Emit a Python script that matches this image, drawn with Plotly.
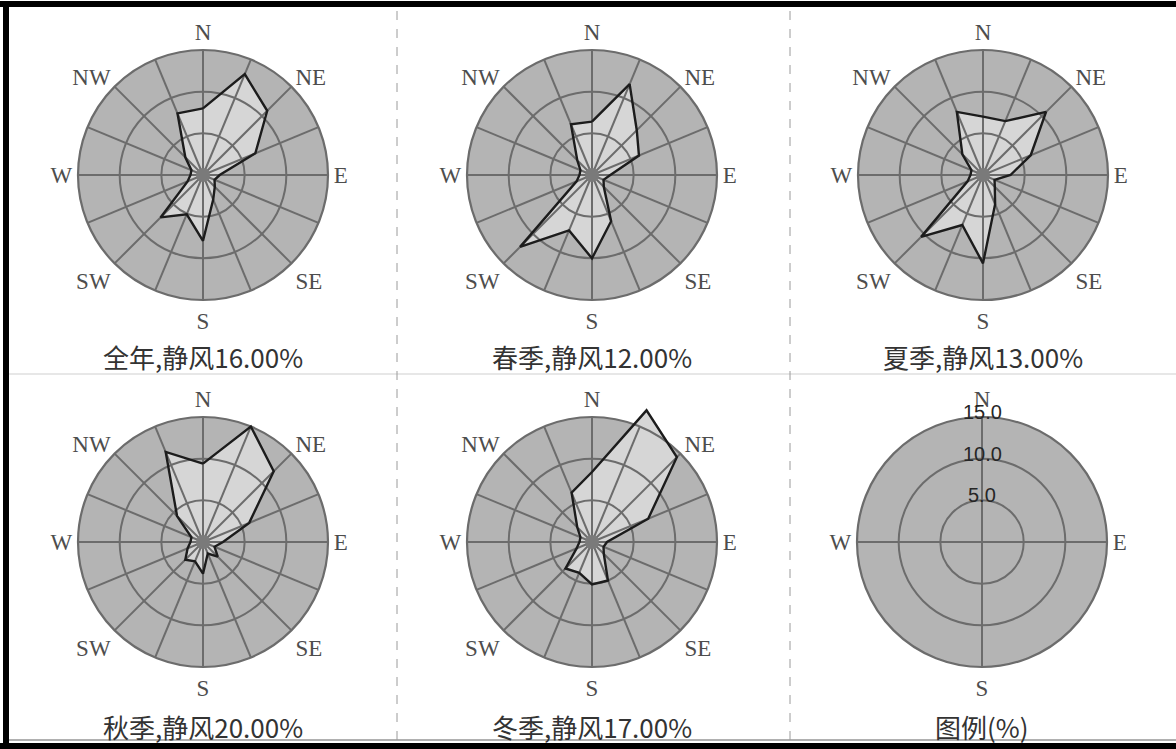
import plotly.graph_objects as go

# ---------------------------------------------------------------- data
DIRECTIONS = ["N", "NNE", "NE", "ENE", "E", "ESE", "SE", "SSE",
              "S", "SSW", "SW", "WSW", "W", "WNW", "NW", "NNW"]
COMPASS_TEXT = ["N", "", "NE", "", "E", "", "SE", "",
                "S", "", "SW", "", "W", "", "NW", ""]

# wind direction frequency (%) per direction, N clockwise
annual = [8.0, 13.1, 10.9, 6.8, 2.0, 1.5, 2.0, 3.2,
          7.9, 5.1, 7.2, 2.0, 1.5, 1.5, 3.0, 8.0]
spring = [6.4, 11.8, 7.6, 6.1, 2.2, 1.5, 2.0, 6.0,
          10.0, 7.2, 12.2, 2.0, 1.5, 1.5, 2.5, 6.6]
summer = [7.0, 7.0, 10.7, 6.2, 3.3, 1.5, 2.0, 3.8,
          10.6, 6.5, 10.5, 2.0, 1.5, 1.5, 3.5, 8.2]
autumn = [9.4, 15.0, 12.0, 6.0, 2.4, 1.5, 2.5, 1.5,
          3.8, 2.5, 3.0, 2.0, 1.5, 1.5, 4.4, 11.7]
winter = [8.4, 17.1, 14.4, 7.3, 1.8, 1.5, 2.0, 5.0,
          5.1, 4.0, 4.5, 2.0, 1.5, 1.5, 2.5, 6.4]

periods = ["全年", "春季", "夏季", "秋季", "冬季"]
calm_pct = [16.00, 12.00, 13.00, 20.00, 17.00]
series = [annual, spring, summer, autumn, winter]

ring_values = [5, 10, 15]
legend_caption = "图例(%)"

# ---------------------------------------------------------------- style
W, H = 1176, 749
R_PX = 125                      # pixel radius of the outer (15 %) ring
R_MAX = 15                      # value on the outer ring
R_DATA = 18                     # data layers reach past the ring
centers = [(203, 175), (592, 175), (983, 175),
           (203, 542), (592, 542), (982, 542)]
caption_y = [357, 357, 357, 726, 726, 726]

BG = "#b4b4b4"
GRID = "#6c6c6c"
FILL = "#d6d6d6"
OUTLINE = "#1c1c1c"
HUB = "#7a7a7a"
LABEL_FONT = dict(family="Liberation Serif", size=23, color="#4d4d4d")
CAPTION_FONT = dict(family="Noto Sans CJK SC", size=26, color="#333333")
RING_FONT = dict(family="Liberation Sans", size=20, color="#262626")

angles = [i * 360 / len(DIRECTIONS) for i in range(len(DIRECTIONS))]


def px_x(x):
    return x / W


def px_y(y):
    return 1 - y / H


def domain(cx, cy, rpx):
    return dict(x=[px_x(cx - rpx), px_x(cx + rpx)],
                y=[px_y(cy + rpx), px_y(cy - rpx)])


def data_polar(cx, cy):
    # bare layer used for the frequency area and its outline
    rpx = R_PX * R_DATA / R_MAX
    return dict(
        domain=domain(cx, cy, rpx), bgcolor="rgba(0,0,0,0)",
        radialaxis=dict(range=[0, R_DATA], showgrid=False, showline=False,
                        showticklabels=False, ticks=""),
        angularaxis=dict(rotation=90, direction="clockwise",
                         showgrid=False, showline=False,
                         showticklabels=False, ticks=""),
    )


def grid_polar(cx, cy, tickvals, ticktext):
    # rings, spokes and compass letters
    return dict(
        domain=domain(cx, cy, R_PX), bgcolor="rgba(0,0,0,0)",
        radialaxis=dict(range=[0, R_MAX], tickvals=ring_values,
                        showticklabels=False, ticks="", showline=False,
                        gridcolor=GRID, gridwidth=1.7),
        angularaxis=dict(rotation=90, direction="clockwise",
                         tickmode="array", tickvals=tickvals,
                         ticktext=ticktext, ticks="",
                         tickfont=LABEL_FONT,
                         gridcolor=GRID, gridwidth=1.7,
                         showline=True, linecolor=GRID, linewidth=2.2),
    )


def disc(cx, cy):
    return dict(type="circle", xref="paper", yref="paper", layer="below",
                x0=px_x(cx - R_PX), x1=px_x(cx + R_PX),
                y0=px_y(cy + R_PX), y1=px_y(cy - R_PX),
                fillcolor=BG, line_width=0)


fig = go.Figure()
layout_polars = {}
annotations = []
shapes = []
n = 0


def next_polar():
    global n
    n += 1
    return "polar" if n == 1 else f"polar{n}"


for i, vals in enumerate(series):
    cx, cy = centers[i]
    shapes.append(disc(cx, cy))
    p_fill, p_grid, p_line = next_polar(), next_polar(), next_polar()
    layout_polars[p_fill] = data_polar(cx, cy)
    layout_polars[p_grid] = grid_polar(cx, cy, angles, COMPASS_TEXT)
    layout_polars[p_line] = data_polar(cx, cy)

    r_closed = vals + vals[:1]
    t_closed = angles + angles[:1]
    fig.add_trace(go.Scatterpolar(
        r=r_closed, theta=t_closed, subplot=p_fill, mode="lines",
        fill="toself", fillcolor=FILL, line=dict(width=0, color=FILL),
        hoverinfo="skip", showlegend=False))
    fig.add_trace(go.Scatterpolar(
        r=[0], theta=[0], subplot=p_grid, mode="markers",
        marker=dict(size=14, color=HUB), hoverinfo="skip",
        showlegend=False))
    fig.add_trace(go.Scatterpolar(
        r=r_closed, theta=t_closed, subplot=p_line, mode="lines",
        line=dict(color=OUTLINE, width=2.4),
        customdata=DIRECTIONS + DIRECTIONS[:1],
        hovertemplate="%{customdata}: %{r}%<extra></extra>",
        showlegend=False))

    annotations.append(dict(
        x=px_x(cx), y=px_y(caption_y[i]), xref="paper", yref="paper",
        text=f"{periods[i]},静风{calm_pct[i]:.2f}%", showarrow=False,
        font=CAPTION_FONT, xanchor="center", yanchor="middle"))

# scale key
cx, cy = centers[5]
shapes.append(disc(cx, cy))
p_key = next_polar()
layout_polars[p_key] = grid_polar(cx, cy, [0, 90, 180, 270],
                                  ["N", "E", "S", "W"])
fig.add_trace(go.Scatterpolar(r=[0], theta=[0], subplot=p_key,
                              mode="markers", marker=dict(size=1, opacity=0),
                              hoverinfo="skip", showlegend=False))
for rv in ring_values:
    annotations.append(dict(
        x=px_x(cx), y=px_y(cy - rv / R_MAX * R_PX), xref="paper",
        yref="paper", text=f"{rv:.1f}", showarrow=False, font=RING_FONT,
        xanchor="center", yanchor="middle", yshift=5))
annotations.append(dict(
    x=px_x(cx), y=px_y(caption_y[5]), xref="paper", yref="paper",
    text=legend_caption, showarrow=False, font=CAPTION_FONT,
    xanchor="center", yanchor="middle"))

# frame and cell dividers
shapes += [
    dict(type="rect", xref="paper", yref="paper", x0=0, x1=1,
         y0=px_y(7), y1=px_y(1), fillcolor="black", line_width=0),
    dict(type="rect", xref="paper", yref="paper", x0=px_x(3), x1=px_x(9),
         y0=0, y1=px_y(1), fillcolor="black", line_width=0),
    dict(type="rect", xref="paper", yref="paper", x0=0, x1=1,
         y0=0, y1=px_y(743), fillcolor="black", line_width=0),
    dict(type="line", xref="paper", yref="paper", x0=px_x(9), x1=1,
         y0=px_y(740), y1=px_y(740), line=dict(color="#b0b0b0", width=2)),
    dict(type="line", xref="paper", yref="paper", x0=px_x(9), x1=1,
         y0=px_y(374), y1=px_y(374), line=dict(color="#cfcfcf", width=1)),
]
for xd in (397, 790):
    shapes.append(dict(type="line", xref="paper", yref="paper",
                       x0=px_x(xd), x1=px_x(xd), y0=px_y(740), y1=px_y(7),
                       line=dict(color="#9a9a9a", width=1, dash="dash")))

fig.update_layout(
    width=W, height=H, margin=dict(l=0, r=0, t=0, b=0),
    paper_bgcolor="white", plot_bgcolor="white",
    showlegend=False, annotations=annotations, shapes=shapes,
    **layout_polars)

fig.write_html("out.html")
